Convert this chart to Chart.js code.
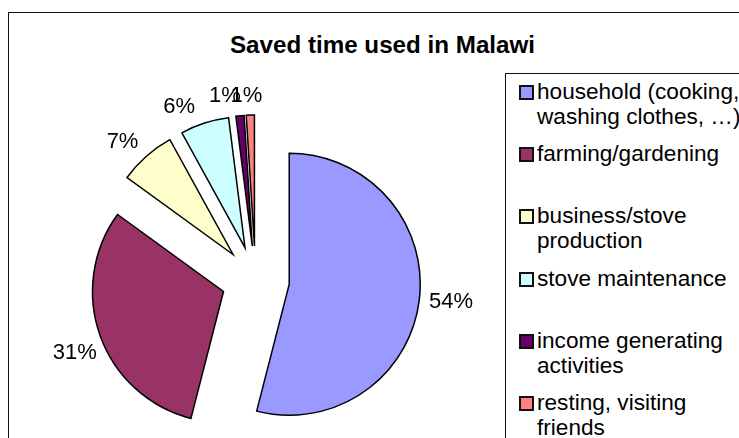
<!DOCTYPE html>
<html>
<head>
<meta charset="utf-8">
<script src="https://cdn.jsdelivr.net/npm/chart.js@4/dist/chart.umd.min.js"></script>
<style>
  html, body { margin: 0; padding: 0; background: #fff; }
  body { width: 739px; height: 438px; overflow: hidden; position: relative;
         font-family: "Liberation Sans", Arial, sans-serif; }
  #frame { position: absolute; left: 8px; top: 12px; width: 760px; height: 460px;
           border: 1.5px solid #111; box-sizing: border-box; }
  #title { position: absolute; left: 0; width: 765px; top: 31px; text-align: center;
           font-weight: bold; font-size: 24.2px; line-height: 28px; color: #000; }
  #chart { position: absolute; left: 0; top: 0; }
  #legend { position: absolute; left: 505px; top: 73px; width: 260px; height: 400px;
            border: 1.5px solid #111; box-sizing: border-box; background: #fff; }
  .item { position: absolute; left: 0; width: 260px; }
  .swatch { position: absolute; left: 13px; top: 6px; width: 15px; height: 15px;
            box-sizing: border-box; border: 2px solid #111; }
  .text { position: absolute; left: 31px; top: 0; width: 214px; font-size: 22.6px;
          line-height: 25px; color: #000; white-space: normal; }
</style>
</head>
<body>
<div id="frame"></div>
<div id="title">Saved time used in Malawi</div>
<canvas id="chart" width="739" height="438"></canvas>
<div id="legend"></div>
<script>
// Ways the time saved by the improved stoves is spent
const categories = [
  'household (cooking, washing clothes, …)',
  'farming/gardening',
  'business/stove production',
  'stove maintenance',
  'income generating activities',
  'resting, visiting friends'
];
const shares = [54, 31, 7, 6, 1, 1];           // percent of saved time
const sliceColors = ['#9999FF', '#993366', '#FFFFCC', '#CCFFFF', '#660066', '#FF8080'];

const EXPLODE = 34;      // distance each slice is pulled away from the centre
const LABEL_DIST = 158;  // distance of the percentage labels from a slice's tip
// small hand adjustments [dx, dy] keeping the crowded labels apart
const labelNudge = [[5, -2.5], [0, 8], [-6, 6], [-17, 9.5], [-12.5, 7.5], [-3, 8]];

// Pull every slice outwards along its middle angle while the pie is painted,
// then write the percentage next to each slice.
const explodedPie = {
  id: 'explodedPie',
  beforeDatasetsDraw(chart) {
    chart.getDatasetMeta(0).data.forEach(arc => {
      const mid = (arc.startAngle + arc.endAngle) / 2;
      arc.$home = { x: arc.x, y: arc.y };
      arc.x = arc.$home.x + EXPLODE * Math.cos(mid);
      arc.y = arc.$home.y + EXPLODE * Math.sin(mid);
    });
  },
  afterDatasetsDraw(chart) {
    const ctx = chart.ctx;
    const values = chart.data.datasets[0].data;
    ctx.save();
    ctx.font = '22px "Liberation Sans", Arial, sans-serif';
    ctx.fillStyle = '#000';
    ctx.textAlign = 'center';
    ctx.textBaseline = 'middle';
    chart.getDatasetMeta(0).data.forEach((arc, i) => {
      const mid = (arc.startAngle + arc.endAngle) / 2;
      const x = arc.x + LABEL_DIST * Math.cos(mid) + labelNudge[i][0];
      const y = arc.y + LABEL_DIST * Math.sin(mid) + labelNudge[i][1];
      ctx.fillText(values[i] + '%', x, y);
      arc.x = arc.$home.x;
      arc.y = arc.$home.y;
    });
    ctx.restore();
  }
};

new Chart(document.getElementById('chart'), {
  type: 'pie',
  data: {
    labels: categories,
    datasets: [{
      data: shares,
      backgroundColor: sliceColors,
      borderColor: '#000',
      borderWidth: 1.5,
      borderJoinStyle: 'miter',
      hoverOffset: 0,
      offset: 0
    }]
  },
  options: {
    responsive: false,
    devicePixelRatio: 1,
    animation: false,
    events: [],
    radius: 131,
    layout: { padding: { left: 105, right: 333, top: 130, bottom: 8 } },
    plugins: {
      legend: { display: false },
      title: { display: false },
      tooltip: { enabled: false }
    }
  },
  plugins: [explodedPie]
});

// Legend entries, one under another
const legend = document.getElementById('legend');
categories.forEach((name, i) => {
  const item = document.createElement('div');
  item.className = 'item';
  item.style.top = (5 + i * 62.2) + 'px';
  const sw = document.createElement('div');
  sw.className = 'swatch';
  sw.style.background = sliceColors[i];
  const tx = document.createElement('div');
  tx.className = 'text';
  tx.textContent = name;
  item.appendChild(sw);
  item.appendChild(tx);
  legend.appendChild(item);
});
</script>
</body>
</html>
